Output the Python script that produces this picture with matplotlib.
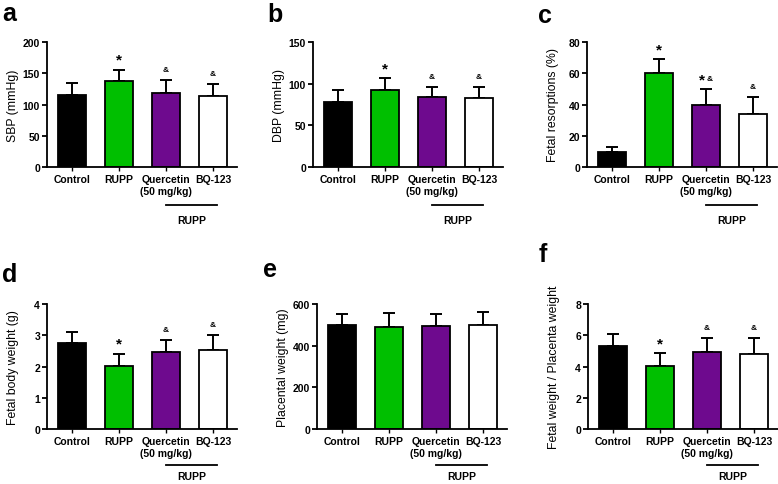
"""
Six-panel bar chart: blood pressure and fetal outcomes in RUPP rats
treated with quercetin or BQ-123. Values read off the published figure.
"""

import matplotlib
matplotlib.use('Agg')
import matplotlib.pyplot as plt

plt.rcParams['font.family'] = ['Liberation Sans', 'DejaVu Sans']

GROUPS = ['Control', 'RUPP', 'Quercetin\n(50 mg/kg)', 'BQ-123']
BAR_COLORS = ['#000000', '#00bf00', '#6e0a8e', '#ffffff']

# panel a - systolic blood pressure
sbp_mean = [115, 137, 119, 113]
sbp_sd = [19, 19, 21, 20]
sbp_marks = ['', '*', '&', '&']

# panel b - diastolic blood pressure
dbp_mean = [78.5, 93, 84, 82.5]
dbp_sd = [13.5, 14, 12, 13]
dbp_marks = ['', '*', '&', '&']

# panel c - fetal resorptions
resorp_mean = [9.7, 60, 40, 34]
resorp_sd = [3.4, 9, 10, 11]
resorp_marks = ['', '*', '*&', '&']

# panel d - fetal body weight
fbw_mean = [2.74, 2.03, 2.47, 2.54]
fbw_sd = [0.36, 0.38, 0.38, 0.46]
fbw_marks = ['', '*', '&', '&']

# panel e - placental weight
plw_mean = [497, 490, 495, 501]
plw_sd = [56, 66, 56, 59]
plw_marks = ['', '', '', '']

# panel f - fetal / placental weight ratio
ratio_mean = [5.32, 4.05, 4.9, 4.77]
ratio_sd = [0.78, 0.82, 0.9, 1.07]
ratio_marks = ['', '*', '&', '&']

W, H = 778, 485


def add_panel(fig, left_px, bottom_px, letter, letter_xy, ylabel, yticks,
              means, sds, marks, bracket=(-0.305, -0.42)):
    """Draw one bar panel. Positions are given in pixels (top-left origin)."""
    ax = fig.add_axes([left_px / W, (H - bottom_px) / H, 190 / W, 125 / H])
    x = range(len(means))
    ax.bar(x, means, width=0.59, color=BAR_COLORS, edgecolor='black',
           linewidth=1.3, zorder=2)
    ax.errorbar(x, means, yerr=[[0] * len(sds), sds], fmt='none',
                ecolor='black', elinewidth=1.4, capsize=4.3, capthick=1.4,
                zorder=1)

    ax.set_xlim(-0.53, 3.51)
    ax.set_ylim(0, yticks[-1])
    ax.set_yticks(yticks)
    ax.set_xticks(list(x))
    ax.set_xticklabels(GROUPS, fontsize=7.5, fontweight='bold',
                       linespacing=1.2)
    for lab in ax.get_yticklabels():
        lab.set_fontsize(7.5)
        lab.set_fontweight('bold')
    ax.tick_params(axis='y', length=3.5, width=1.3, pad=1.5)
    ax.tick_params(axis='x', length=3, width=1.0, pad=2)
    for side in ('top', 'right'):
        ax.spines[side].set_visible(False)
    for side in ('left', 'bottom'):
        ax.spines[side].set_linewidth(1.3)

    ax.set_ylabel(ylabel, fontsize=8.8)
    ax.yaxis.set_label_coords(-0.145, 0.5)

    # significance marks above error bars
    for i, m in enumerate(marks):
        top = means[i] + sds[i]
        if m == '*':
            ax.annotate('*', xy=(i, top), xytext=(0, 2),
                        textcoords='offset points', ha='center', va='bottom',
                        fontsize=11, fontweight='bold')
        elif m == '&':
            ax.annotate('&', xy=(i, top), xytext=(0, 5),
                        textcoords='offset points', ha='center', va='bottom',
                        fontsize=6, fontweight='bold')
        elif m == '*&':
            ax.annotate('*', xy=(i, top), xytext=(-0.5, 2),
                        textcoords='offset points', ha='right', va='bottom',
                        fontsize=11, fontweight='bold')
            ax.annotate('&', xy=(i, top), xytext=(0.5, 5),
                        textcoords='offset points', ha='left', va='bottom',
                        fontsize=6, fontweight='bold')

    # RUPP bracket under the two treated groups
    trans = ax.get_xaxis_transform()
    ax.plot([2.0, 3.08], [bracket[0], bracket[0]], color='black', lw=1.3,
            transform=trans, clip_on=False)
    ax.text(2.54, bracket[1], 'RUPP', transform=trans, ha='center',
            va='center', fontsize=7.5, fontweight='bold')

    fig.text(letter_xy[0] / W, 1 - letter_xy[1] / H, letter, fontsize=18,
             fontweight='bold', ha='left', va='baseline')
    return ax


def main() -> None:
    fig = plt.figure(figsize=(W / 100, H / 100), dpi=100)
    low = (-0.29, -0.38)

    add_panel(fig, 47, 168, 'a', (2, 21), 'SBP (mmHg)',
              [0, 50, 100, 150, 200], sbp_mean, sbp_sd, sbp_marks)
    add_panel(fig, 313, 168, 'b', (267, 22), 'DBP (mmHg)',
              [0, 50, 100, 150], dbp_mean, dbp_sd, dbp_marks)
    add_panel(fig, 587, 168, 'c', (538, 23), 'Fetal resorptions (%)',
              [0, 20, 40, 60, 80], resorp_mean, resorp_sd, resorp_marks)
    add_panel(fig, 47, 430, 'd', (2, 282), 'Fetal body weight (g)',
              [0, 1, 2, 3, 4], fbw_mean, fbw_sd, fbw_marks, low)
    add_panel(fig, 317, 430, 'e', (263, 277), 'Placental weight (mg)',
              [0, 200, 400, 600], plw_mean, plw_sd, plw_marks, low)
    add_panel(fig, 588, 430, 'f', (539, 262), 'Fetal weight / Placenta weight',
              [0, 2, 4, 6, 8], ratio_mean, ratio_sd, ratio_marks, low)

    fig.savefig('out.png', dpi=100)
    plt.close(fig)


if __name__ == '__main__':
    main()
